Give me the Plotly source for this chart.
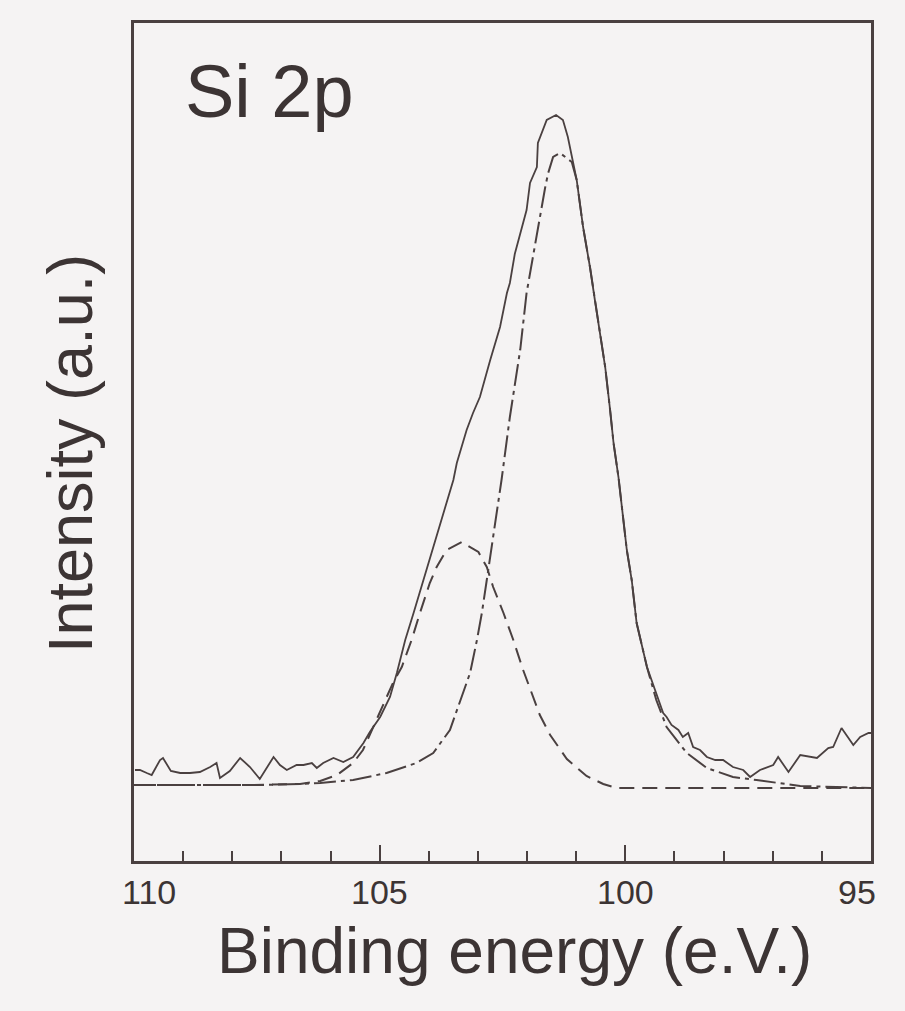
import plotly.graph_objects as go

# ---------------- data ----------------
# measured Si 2p spectrum (solid line): binding energy (eV), intensity (a.u.)
meas_energy = [109.98, 109.88, 109.74, 109.64, 109.47, 109.41, 109.25, 109.06, 108.86, 108.66,
               108.45, 108.32, 108.25, 108.05, 107.84, 107.64, 107.44, 107.16, 107.03, 106.89,
               106.69, 106.55, 106.38, 106.28, 106.15, 105.94, 105.74, 105.54, 105.33, 105.20,
               104.99, 104.79, 104.65, 104.48, 104.31, 104.11, 103.91, 103.70, 103.50, 103.43,
               103.23, 103.10, 102.96, 102.75, 102.55, 102.41, 102.35, 102.25, 102.14, 102.01,
               101.94, 101.80, 101.78, 101.70, 101.60, 101.41, 101.27, 101.17, 100.99, 100.86,
               100.72, 100.62, 100.52, 100.41, 100.31, 100.24, 100.14, 100.04, 99.97, 99.87,
               99.77, 99.56, 99.23, 99.16, 99.06, 98.92, 98.83, 98.72, 98.62, 98.48,
               98.34, 98.17, 98.01, 97.81, 97.60, 97.46, 97.33, 97.26, 96.99, 96.89,
               96.68, 96.44, 96.10, 95.87, 95.77, 95.60, 95.36, 95.22, 95.05, 95.00]
meas_intensity = [91, 91, 88, 86, 101, 103, 90, 88, 88, 89,
                  94, 98, 83, 90, 103, 94, 82, 104, 96, 91,
                  96, 96, 98, 93, 98, 103, 99, 104, 118, 129,
                  144, 164, 188, 221, 248, 281, 314, 348, 381, 398,
                  431, 448, 464, 501, 534, 568, 578, 607, 628, 651,
                  678, 694, 718, 728, 741, 746, 741, 724, 681, 634,
                  594, 561, 528, 494, 451, 418, 384, 344, 311, 281,
                  238, 194, 148, 144, 136, 131, 124, 128, 114, 111,
                  104, 101, 101, 94, 91, 84, 88, 91, 96, 104,
                  89, 106, 103, 113, 114, 133, 116, 124, 128, 128]

# fitted Si component (dash-dot line)
si_energy = [110.00, 108.66, 107.44, 106.62, 106.21, 105.54, 104.86, 104.25, 103.91, 103.57,
             103.36, 103.16, 103.02, 102.92, 102.82, 102.72, 102.62, 102.52, 102.35, 102.25,
             102.14, 102.01, 101.94, 101.84, 101.74, 101.63, 101.57, 101.47, 101.33, 101.19,
             101.09, 100.99, 100.86, 100.72, 100.62, 100.52, 100.41, 100.31, 100.24, 100.14,
             100.04, 99.97, 99.87, 99.77, 99.56, 99.37, 99.16, 98.75, 98.34, 97.81,
             97.33, 96.44, 95.00]
si_intensity = [76, 76, 76, 77, 78, 81, 88, 98, 108, 131,
                161, 188, 221, 248, 281, 314, 348, 381, 444, 478,
                511, 568, 588, 618, 644, 674, 688, 704, 708, 703,
                699, 681, 634, 594, 561, 528, 494, 451, 418, 384,
                344, 311, 281, 238, 194, 161, 134, 108, 93, 84,
                81, 75, 73]

# fitted SiO2 component (dashed line)
ox_energy = [110.00, 107.64, 106.62, 106.21, 105.87, 105.67, 105.54, 105.34, 105.06, 104.73,
             104.55, 104.35, 104.18, 103.98, 103.84, 103.64, 103.33, 102.99, 102.82, 102.69,
             102.48, 102.28, 102.08, 101.88, 101.74, 101.53, 101.19, 100.79, 100.45, 100.18,
             98.48, 95.00]
ox_intensity = [76, 76, 77, 80, 86, 93, 98, 111, 141, 178,
                194, 221, 248, 278, 294, 311, 319, 309, 294, 274,
                248, 221, 191, 164, 146, 126, 102, 85, 77, 73,
                73, 73]

x_range = [110, 95]
y_range = [0, 838]
x_tick_values = [110, 105, 100, 95]
x_tick_labels = ["110", "105", "100", "95"]

# ---------------- styling ----------------
INK = "#4a4040"
TXT = "#3c3434"
BG = "#f5f3f3"
FONT = "Liberation Sans, Arial, sans-serif"

fig = go.Figure()
fig.add_trace(go.Scatter(x=ox_energy, y=ox_intensity, mode="lines",
                         line=dict(color=INK, width=2, dash="15px,8px"),
                         hoverinfo="skip", showlegend=False))
fig.add_trace(go.Scatter(x=si_energy, y=si_intensity, mode="lines",
                         line=dict(color=INK, width=2, dash="22px,5px,4px,5px"),
                         hoverinfo="skip", showlegend=False))
fig.add_trace(go.Scatter(x=meas_energy, y=meas_intensity, mode="lines",
                         line=dict(color=INK, width=1.8),
                         hoverinfo="skip", showlegend=False))

fig.update_layout(
    width=905, height=1011,
    margin=dict(l=134, r=34, t=23, b=150, pad=0),
    paper_bgcolor=BG, plot_bgcolor=BG,
    font=dict(family=FONT, color=TXT),
    xaxis=dict(range=x_range, showgrid=False, zeroline=False,
               showline=True, mirror=True, linecolor=INK, linewidth=2.5,
               ticks="inside", tickvals=x_tick_values, ticklen=16, tickwidth=2.2,
               tickcolor=INK, showticklabels=False,
               minor=dict(ticks="inside", dtick=1, tick0=95, ticklen=10,
                          tickwidth=2, tickcolor=INK)),
    yaxis=dict(range=y_range, showgrid=False, zeroline=False,
               showline=True, mirror=True, linecolor=INK, linewidth=2.5,
               ticks="", showticklabels=False),
)

shifts = {110: 15, 95: -14}
for v, t in zip(x_tick_values, x_tick_labels):
    fig.add_annotation(x=v, y=0, xref="x", yref="paper", text=t, showarrow=False,
                       xanchor="center", yanchor="top", xshift=shifts.get(v, 0), yshift=-10,
                       font=dict(family=FONT, size=34, color=TXT))

fig.add_annotation(x=(514 - 134) / 737, y=0, xref="paper", yref="paper",
                   text="Binding energy (e.V.)", showarrow=False,
                   xanchor="center", yanchor="top", yshift=-52,
                   font=dict(family=FONT, size=64, color=TXT))
fig.add_annotation(x=(70 - 134) / 737, y=(861 - 454) / 838, xref="paper", yref="paper",
                   text="Intensity (a.u.)", showarrow=False, textangle=-90,
                   xanchor="center", yanchor="middle",
                   font=dict(family=FONT, size=63, color=TXT))
fig.add_annotation(x=(183 - 134) / 737, y=(861 - 48) / 838, xref="paper", yref="paper",
                   text="Si 2p", showarrow=False, xanchor="left", yanchor="top",
                   font=dict(family=FONT, size=74, color=TXT))

fig.write_html("out.html",
               config={"displayModeBar": False},
               post_script="document.body.style.margin='0';"
                           "document.body.style.background='#f5f3f3';")
